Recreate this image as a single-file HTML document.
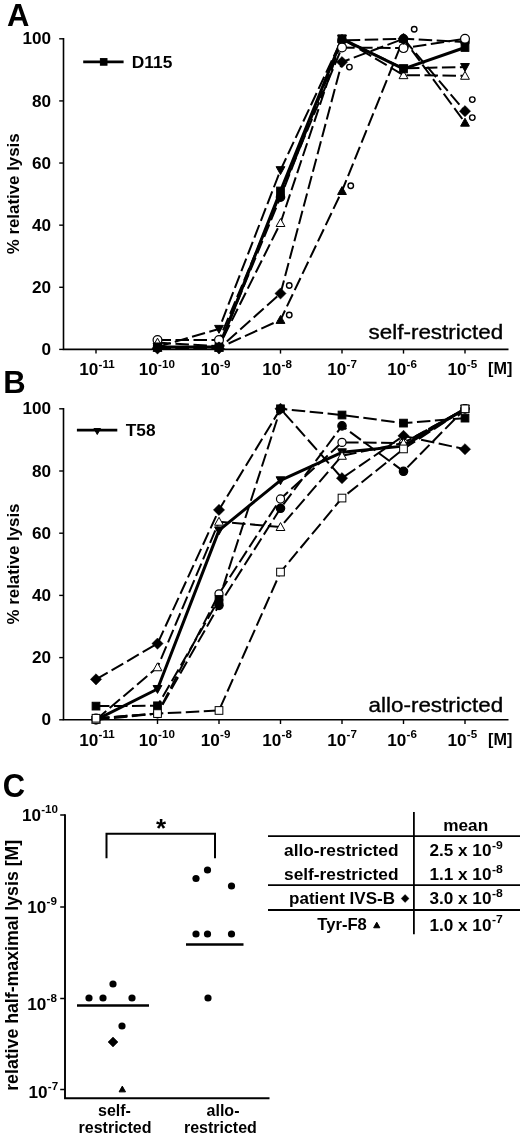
<!DOCTYPE html>
<html><head><meta charset="utf-8"><title>Figure</title>
<style>html,body{margin:0;padding:0;background:#fff}svg{display:block}</style></head>
<body>
<svg width="520" height="1135" viewBox="0 0 520 1135" font-family='"Liberation Sans", Arial, sans-serif' fill="#000">
<rect width="520" height="1135" fill="#fff"/>
<text transform="translate(7.00,26.00)" font-size="31" font-weight="bold">A</text>
<text transform="translate(3.30,393.00)" font-size="31" font-weight="bold">B</text>
<text transform="translate(2.80,797.30) scale(0.93,1)" font-size="33.3" font-weight="bold">C</text>
<path d="M63.5,38.099999999999994 V349.4 H508.5" fill="none" stroke="#000" stroke-width="1.6"/>
<line x1="59.2" x2="63.5" y1="349.40" y2="349.40" stroke="#000" stroke-width="1.4"/>
<text transform="translate(51.10,355.00) scale(1.06,1)" font-size="16.2" font-weight="bold" text-anchor="end">0</text>
<line x1="59.2" x2="63.5" y1="287.28" y2="287.28" stroke="#000" stroke-width="1.4"/>
<text transform="translate(51.10,292.88) scale(1.06,1)" font-size="16.2" font-weight="bold" text-anchor="end">20</text>
<line x1="59.2" x2="63.5" y1="225.16" y2="225.16" stroke="#000" stroke-width="1.4"/>
<text transform="translate(51.10,230.76) scale(1.06,1)" font-size="16.2" font-weight="bold" text-anchor="end">40</text>
<line x1="59.2" x2="63.5" y1="163.04" y2="163.04" stroke="#000" stroke-width="1.4"/>
<text transform="translate(51.10,168.64) scale(1.06,1)" font-size="16.2" font-weight="bold" text-anchor="end">60</text>
<line x1="59.2" x2="63.5" y1="100.92" y2="100.92" stroke="#000" stroke-width="1.4"/>
<text transform="translate(51.10,106.52) scale(1.06,1)" font-size="16.2" font-weight="bold" text-anchor="end">80</text>
<line x1="59.2" x2="63.5" y1="38.80" y2="38.80" stroke="#000" stroke-width="1.4"/>
<text transform="translate(51.10,44.40) scale(1.06,1)" font-size="16.2" font-weight="bold" text-anchor="end">100</text>
<line x1="96.0" x2="96.0" y1="349.4" y2="353.59999999999997" stroke="#000" stroke-width="1.4"/>
<text transform="translate(79.20,375.40) scale(1.06,1)" font-size="16.2" font-weight="bold">10<tspan dy="-7.8" dx="0.2" font-size="11">-11</tspan></text>
<line x1="157.5" x2="157.5" y1="349.4" y2="353.59999999999997" stroke="#000" stroke-width="1.4"/>
<text transform="translate(138.80,375.40) scale(1.06,1)" font-size="16.2" font-weight="bold">10<tspan dy="-7.8" dx="0.2" font-size="11">-10</tspan></text>
<line x1="219.0" x2="219.0" y1="349.4" y2="353.59999999999997" stroke="#000" stroke-width="1.4"/>
<text transform="translate(200.80,375.40) scale(1.06,1)" font-size="16.2" font-weight="bold">10<tspan dy="-7.8" dx="0.2" font-size="11">-9</tspan></text>
<line x1="280.5" x2="280.5" y1="349.4" y2="353.59999999999997" stroke="#000" stroke-width="1.4"/>
<text transform="translate(262.20,375.40) scale(1.06,1)" font-size="16.2" font-weight="bold">10<tspan dy="-7.8" dx="0.2" font-size="11">-8</tspan></text>
<line x1="342.0" x2="342.0" y1="349.4" y2="353.59999999999997" stroke="#000" stroke-width="1.4"/>
<text transform="translate(327.30,375.40) scale(1.06,1)" font-size="16.2" font-weight="bold">10<tspan dy="-7.8" dx="0.2" font-size="11">-7</tspan></text>
<line x1="403.5" x2="403.5" y1="349.4" y2="353.59999999999997" stroke="#000" stroke-width="1.4"/>
<text transform="translate(387.30,375.40) scale(1.06,1)" font-size="16.2" font-weight="bold">10<tspan dy="-7.8" dx="0.2" font-size="11">-6</tspan></text>
<line x1="465.0" x2="465.0" y1="349.4" y2="353.59999999999997" stroke="#000" stroke-width="1.4"/>
<text transform="translate(447.55,375.40) scale(1.06,1)" font-size="16.2" font-weight="bold">10<tspan dy="-7.8" dx="0.2" font-size="11">-5</tspan></text>
<text transform="translate(488.00,374.40) scale(1.04,1)" font-size="15.6" font-weight="bold">[M]</text>
<text transform="translate(18.60,193.80) rotate(-90)" font-size="17.3" font-weight="bold" text-anchor="middle" textLength="121" lengthAdjust="spacingAndGlyphs">% relative lysis</text>
<path d="M157.50,347.85 L219.00,346.29 L280.50,197.21 L342.00,40.35 L403.50,38.80 L465.00,41.91" fill="none" stroke="#000" stroke-width="2" stroke-dasharray="13.5 4.5"/>
<path d="M157.50,340.08 L219.00,340.08 L280.50,194.10 L342.00,47.50 L403.50,48.12 L465.00,38.80" fill="none" stroke="#000" stroke-width="2" stroke-dasharray="13.5 4.5"/>
<path d="M157.50,342.57 L219.00,346.29 L280.50,222.99 L342.00,38.80 L403.50,75.14 L465.00,75.76" fill="none" stroke="#000" stroke-width="2" stroke-dasharray="13.5 4.5"/>
<path d="M157.50,348.47 L219.00,348.47 L280.50,293.49 L342.00,62.10 L403.50,38.80 L465.00,111.17" fill="none" stroke="#000" stroke-width="2" stroke-dasharray="13.5 4.5"/>
<path d="M157.50,347.85 L219.00,347.85 L280.50,319.89 L342.00,190.99 L403.50,38.80 L465.00,122.66" fill="none" stroke="#000" stroke-width="2" stroke-dasharray="13.5 4.5"/>
<path d="M157.50,346.92 L219.00,328.90 L280.50,170.18 L342.00,38.80 L403.50,68.31 L465.00,67.06" fill="none" stroke="#000" stroke-width="2" stroke-dasharray="13.5 4.5"/>
<path d="M157.50,346.92 L219.00,346.92 L280.50,190.99 L342.00,38.80 L403.50,68.93 L465.00,47.50" fill="none" stroke="#000" stroke-width="3" stroke-linejoin="round"/>
<circle cx="157.50" cy="347.85" r="4.2" fill="#000" stroke="#000" stroke-width="1.2"/>
<circle cx="219.00" cy="346.29" r="4.2" fill="#000" stroke="#000" stroke-width="1.2"/>
<circle cx="280.50" cy="197.21" r="4.2" fill="#000" stroke="#000" stroke-width="1.2"/>
<circle cx="342.00" cy="40.35" r="4.2" fill="#000" stroke="#000" stroke-width="1.2"/>
<circle cx="403.50" cy="38.80" r="4.2" fill="#000" stroke="#000" stroke-width="1.2"/>
<circle cx="465.00" cy="41.91" r="4.2" fill="#000" stroke="#000" stroke-width="1.2"/>
<circle cx="157.50" cy="340.08" r="4.4" fill="#fff" stroke="#000" stroke-width="1.2"/>
<circle cx="219.00" cy="340.08" r="4.4" fill="#fff" stroke="#000" stroke-width="1.2"/>
<circle cx="342.00" cy="47.50" r="4.4" fill="#fff" stroke="#000" stroke-width="1.2"/>
<circle cx="403.50" cy="48.12" r="4.4" fill="#fff" stroke="#000" stroke-width="1.2"/>
<circle cx="465.00" cy="38.80" r="4.4" fill="#fff" stroke="#000" stroke-width="1.2"/>
<polygon points="157.50,338.17 161.90,346.09 153.10,346.09" fill="#fff" stroke="#000" stroke-width="1"/>
<polygon points="219.00,341.89 223.40,349.81 214.60,349.81" fill="#fff" stroke="#000" stroke-width="1"/>
<polygon points="280.50,218.59 284.90,226.51 276.10,226.51" fill="#fff" stroke="#000" stroke-width="1"/>
<polygon points="342.00,34.40 346.40,42.32 337.60,42.32" fill="#fff" stroke="#000" stroke-width="1"/>
<polygon points="403.50,70.74 407.90,78.66 399.10,78.66" fill="#fff" stroke="#000" stroke-width="1"/>
<polygon points="465.00,71.36 469.40,79.28 460.60,79.28" fill="#fff" stroke="#000" stroke-width="1"/>
<polygon points="157.50,342.87 163.10,348.47 157.50,354.07 151.90,348.47" fill="#000" stroke="#000" stroke-width="0.5"/>
<polygon points="219.00,342.87 224.60,348.47 219.00,354.07 213.40,348.47" fill="#000" stroke="#000" stroke-width="0.5"/>
<polygon points="280.50,287.89 286.10,293.49 280.50,299.09 274.90,293.49" fill="#000" stroke="#000" stroke-width="0.5"/>
<polygon points="342.00,56.50 347.60,62.10 342.00,67.70 336.40,62.10" fill="#000" stroke="#000" stroke-width="0.5"/>
<polygon points="403.50,33.20 409.10,38.80 403.50,44.40 397.90,38.80" fill="#000" stroke="#000" stroke-width="0.5"/>
<polygon points="465.00,105.57 470.60,111.17 465.00,116.77 459.40,111.17" fill="#000" stroke="#000" stroke-width="0.5"/>
<polygon points="157.50,343.45 161.90,351.37 153.10,351.37" fill="#000" stroke="#000" stroke-width="1"/>
<polygon points="219.00,343.45 223.40,351.37 214.60,351.37" fill="#000" stroke="#000" stroke-width="1"/>
<polygon points="280.50,315.49 284.90,323.41 276.10,323.41" fill="#000" stroke="#000" stroke-width="1"/>
<polygon points="342.00,186.59 346.40,194.51 337.60,194.51" fill="#000" stroke="#000" stroke-width="1"/>
<polygon points="403.50,34.40 407.90,42.32 399.10,42.32" fill="#000" stroke="#000" stroke-width="1"/>
<polygon points="465.00,118.26 469.40,126.18 460.60,126.18" fill="#000" stroke="#000" stroke-width="1"/>
<polygon points="157.50,351.32 161.90,343.40 153.10,343.40" fill="#000" stroke="#000" stroke-width="1"/>
<polygon points="219.00,333.30 223.40,325.38 214.60,325.38" fill="#000" stroke="#000" stroke-width="1"/>
<polygon points="280.50,174.58 284.90,166.66 276.10,166.66" fill="#000" stroke="#000" stroke-width="1"/>
<polygon points="342.00,43.20 346.40,35.28 337.60,35.28" fill="#000" stroke="#000" stroke-width="1"/>
<polygon points="403.50,72.71 407.90,64.79 399.10,64.79" fill="#000" stroke="#000" stroke-width="1"/>
<polygon points="465.00,71.46 469.40,63.54 460.60,63.54" fill="#000" stroke="#000" stroke-width="1"/>
<rect x="153.65" y="343.07" width="7.70" height="7.70" fill="#000" stroke="#000" stroke-width="1"/>
<rect x="215.15" y="343.07" width="7.70" height="7.70" fill="#000" stroke="#000" stroke-width="1"/>
<rect x="276.65" y="187.14" width="7.70" height="7.70" fill="#000" stroke="#000" stroke-width="1"/>
<rect x="338.15" y="34.95" width="7.70" height="7.70" fill="#000" stroke="#000" stroke-width="1"/>
<rect x="399.65" y="65.08" width="7.70" height="7.70" fill="#000" stroke="#000" stroke-width="1"/>
<rect x="461.15" y="43.65" width="7.70" height="7.70" fill="#000" stroke="#000" stroke-width="1"/>
<circle cx="289.25" cy="285.50" r="2.75" fill="#fff" stroke="#000" stroke-width="1.4"/>
<circle cx="289.25" cy="315.00" r="2.75" fill="#fff" stroke="#000" stroke-width="1.4"/>
<circle cx="350.75" cy="185.75" r="2.75" fill="#fff" stroke="#000" stroke-width="1.4"/>
<circle cx="349.40" cy="67.10" r="2.75" fill="#fff" stroke="#000" stroke-width="1.4"/>
<circle cx="414.20" cy="29.30" r="2.75" fill="#fff" stroke="#000" stroke-width="1.4"/>
<circle cx="472.30" cy="99.60" r="2.75" fill="#fff" stroke="#000" stroke-width="1.4"/>
<circle cx="472.30" cy="117.60" r="2.75" fill="#fff" stroke="#000" stroke-width="1.4"/>
<line x1="83.2" x2="123.6" y1="61.9" y2="61.9" stroke="#000" stroke-width="2.6"/>
<rect x="100.40" y="58.60" width="6.60" height="6.60" fill="#000" stroke="#000" stroke-width="1"/>
<text transform="translate(131.80,67.70)" font-size="16.2" font-weight="bold" textLength="40.5" lengthAdjust="spacingAndGlyphs">D115</text>
<text transform="translate(368.60,339.20)" font-size="20.3" stroke="#000" stroke-width="0.35" textLength="134.5" lengthAdjust="spacingAndGlyphs">self-restricted</text>
<path d="M63.5,408.1 V719.8 H508.5" fill="none" stroke="#000" stroke-width="1.6"/>
<line x1="59.2" x2="63.5" y1="719.80" y2="719.80" stroke="#000" stroke-width="1.4"/>
<text transform="translate(51.10,725.40) scale(1.06,1)" font-size="16.2" font-weight="bold" text-anchor="end">0</text>
<line x1="59.2" x2="63.5" y1="657.60" y2="657.60" stroke="#000" stroke-width="1.4"/>
<text transform="translate(51.10,663.20) scale(1.06,1)" font-size="16.2" font-weight="bold" text-anchor="end">20</text>
<line x1="59.2" x2="63.5" y1="595.40" y2="595.40" stroke="#000" stroke-width="1.4"/>
<text transform="translate(51.10,601.00) scale(1.06,1)" font-size="16.2" font-weight="bold" text-anchor="end">40</text>
<line x1="59.2" x2="63.5" y1="533.20" y2="533.20" stroke="#000" stroke-width="1.4"/>
<text transform="translate(51.10,538.80) scale(1.06,1)" font-size="16.2" font-weight="bold" text-anchor="end">60</text>
<line x1="59.2" x2="63.5" y1="471.00" y2="471.00" stroke="#000" stroke-width="1.4"/>
<text transform="translate(51.10,476.60) scale(1.06,1)" font-size="16.2" font-weight="bold" text-anchor="end">80</text>
<line x1="59.2" x2="63.5" y1="408.80" y2="408.80" stroke="#000" stroke-width="1.4"/>
<text transform="translate(51.10,414.40) scale(1.06,1)" font-size="16.2" font-weight="bold" text-anchor="end">100</text>
<line x1="96.0" x2="96.0" y1="719.8" y2="724.0" stroke="#000" stroke-width="1.4"/>
<text transform="translate(79.20,745.80) scale(1.06,1)" font-size="16.2" font-weight="bold">10<tspan dy="-7.8" dx="0.2" font-size="11">-11</tspan></text>
<line x1="157.5" x2="157.5" y1="719.8" y2="724.0" stroke="#000" stroke-width="1.4"/>
<text transform="translate(138.80,745.80) scale(1.06,1)" font-size="16.2" font-weight="bold">10<tspan dy="-7.8" dx="0.2" font-size="11">-10</tspan></text>
<line x1="219.0" x2="219.0" y1="719.8" y2="724.0" stroke="#000" stroke-width="1.4"/>
<text transform="translate(200.80,745.80) scale(1.06,1)" font-size="16.2" font-weight="bold">10<tspan dy="-7.8" dx="0.2" font-size="11">-9</tspan></text>
<line x1="280.5" x2="280.5" y1="719.8" y2="724.0" stroke="#000" stroke-width="1.4"/>
<text transform="translate(262.20,745.80) scale(1.06,1)" font-size="16.2" font-weight="bold">10<tspan dy="-7.8" dx="0.2" font-size="11">-8</tspan></text>
<line x1="342.0" x2="342.0" y1="719.8" y2="724.0" stroke="#000" stroke-width="1.4"/>
<text transform="translate(327.30,745.80) scale(1.06,1)" font-size="16.2" font-weight="bold">10<tspan dy="-7.8" dx="0.2" font-size="11">-7</tspan></text>
<line x1="403.5" x2="403.5" y1="719.8" y2="724.0" stroke="#000" stroke-width="1.4"/>
<text transform="translate(387.30,745.80) scale(1.06,1)" font-size="16.2" font-weight="bold">10<tspan dy="-7.8" dx="0.2" font-size="11">-6</tspan></text>
<line x1="465.0" x2="465.0" y1="719.8" y2="724.0" stroke="#000" stroke-width="1.4"/>
<text transform="translate(447.55,745.80) scale(1.06,1)" font-size="16.2" font-weight="bold">10<tspan dy="-7.8" dx="0.2" font-size="11">-5</tspan></text>
<text transform="translate(488.00,744.80) scale(1.04,1)" font-size="15.6" font-weight="bold">[M]</text>
<text transform="translate(18.60,564.00) rotate(-90)" font-size="17.3" font-weight="bold" text-anchor="middle" textLength="121" lengthAdjust="spacingAndGlyphs">% relative lysis</text>
<path d="M96.00,718.25 L157.50,713.58 L219.00,593.85 L280.50,498.99 L342.00,442.39 L403.50,443.01 L465.00,408.80" fill="none" stroke="#000" stroke-width="2" stroke-dasharray="13.5 4.5"/>
<path d="M96.00,719.80 L157.50,713.58 L219.00,605.35 L280.50,508.32 L342.00,425.90 L403.50,471.31 L465.00,408.80" fill="none" stroke="#000" stroke-width="2" stroke-dasharray="13.5 4.5"/>
<path d="M96.00,706.12 L157.50,705.80 L219.00,599.44 L280.50,408.80 L342.00,415.02 L403.50,423.11 L465.00,418.13" fill="none" stroke="#000" stroke-width="2" stroke-dasharray="13.5 4.5"/>
<path d="M96.00,679.37 L157.50,643.61 L219.00,509.88 L280.50,408.80 L342.00,478.15 L403.50,435.86 L465.00,449.23" fill="none" stroke="#000" stroke-width="2" stroke-dasharray="13.5 4.5"/>
<path d="M96.00,719.80 L157.50,689.01 L219.00,530.40 L280.50,480.33 L342.00,452.34 L403.50,446.12 L465.00,408.80" fill="none" stroke="#000" stroke-width="3" stroke-linejoin="round"/>
<path d="M96.00,719.80 L157.50,667.24 L219.00,521.69 L280.50,526.98 L342.00,455.76 L403.50,443.01 L465.00,408.80" fill="none" stroke="#000" stroke-width="2" stroke-dasharray="13.5 4.5"/>
<path d="M96.00,718.25 L157.50,713.58 L219.00,710.47 L280.50,572.07 L342.00,498.06 L403.50,448.92 L465.00,408.80" fill="none" stroke="#000" stroke-width="2" stroke-dasharray="13.5 4.5"/>
<circle cx="96.00" cy="718.25" r="4.05" fill="#fff" stroke="#000" stroke-width="1.2"/>
<circle cx="157.50" cy="713.58" r="4.05" fill="#fff" stroke="#000" stroke-width="1.2"/>
<circle cx="219.00" cy="593.85" r="4.05" fill="#fff" stroke="#000" stroke-width="1.2"/>
<circle cx="280.50" cy="498.99" r="4.05" fill="#fff" stroke="#000" stroke-width="1.2"/>
<circle cx="342.00" cy="442.39" r="4.05" fill="#fff" stroke="#000" stroke-width="1.2"/>
<circle cx="403.50" cy="443.01" r="4.05" fill="#fff" stroke="#000" stroke-width="1.2"/>
<circle cx="465.00" cy="408.80" r="4.05" fill="#fff" stroke="#000" stroke-width="1.2"/>
<circle cx="96.00" cy="719.80" r="4.2" fill="#000" stroke="#000" stroke-width="1.2"/>
<circle cx="157.50" cy="713.58" r="4.2" fill="#000" stroke="#000" stroke-width="1.2"/>
<circle cx="219.00" cy="605.35" r="4.2" fill="#000" stroke="#000" stroke-width="1.2"/>
<circle cx="280.50" cy="508.32" r="4.2" fill="#000" stroke="#000" stroke-width="1.2"/>
<circle cx="342.00" cy="425.90" r="4.2" fill="#000" stroke="#000" stroke-width="1.2"/>
<circle cx="403.50" cy="471.31" r="4.2" fill="#000" stroke="#000" stroke-width="1.2"/>
<circle cx="465.00" cy="408.80" r="4.2" fill="#000" stroke="#000" stroke-width="1.2"/>
<rect x="92.15" y="702.27" width="7.70" height="7.70" fill="#000" stroke="#000" stroke-width="1"/>
<rect x="153.65" y="701.95" width="7.70" height="7.70" fill="#000" stroke="#000" stroke-width="1"/>
<rect x="215.15" y="595.59" width="7.70" height="7.70" fill="#000" stroke="#000" stroke-width="1"/>
<rect x="276.65" y="404.95" width="7.70" height="7.70" fill="#000" stroke="#000" stroke-width="1"/>
<rect x="338.15" y="411.17" width="7.70" height="7.70" fill="#000" stroke="#000" stroke-width="1"/>
<rect x="399.65" y="419.26" width="7.70" height="7.70" fill="#000" stroke="#000" stroke-width="1"/>
<rect x="461.15" y="414.28" width="7.70" height="7.70" fill="#000" stroke="#000" stroke-width="1"/>
<polygon points="96.00,673.77 101.60,679.37 96.00,684.97 90.40,679.37" fill="#000" stroke="#000" stroke-width="0.5"/>
<polygon points="157.50,638.00 163.10,643.61 157.50,649.21 151.90,643.61" fill="#000" stroke="#000" stroke-width="0.5"/>
<polygon points="219.00,504.27 224.60,509.88 219.00,515.48 213.40,509.88" fill="#000" stroke="#000" stroke-width="0.5"/>
<polygon points="280.50,403.20 286.10,408.80 280.50,414.40 274.90,408.80" fill="#000" stroke="#000" stroke-width="0.5"/>
<polygon points="342.00,472.55 347.60,478.15 342.00,483.75 336.40,478.15" fill="#000" stroke="#000" stroke-width="0.5"/>
<polygon points="403.50,430.26 409.10,435.86 403.50,441.46 397.90,435.86" fill="#000" stroke="#000" stroke-width="0.5"/>
<polygon points="465.00,443.63 470.60,449.23 465.00,454.83 459.40,449.23" fill="#000" stroke="#000" stroke-width="0.5"/>
<polygon points="96.00,724.20 100.40,716.28 91.60,716.28" fill="#000" stroke="#000" stroke-width="1"/>
<polygon points="157.50,693.41 161.90,685.49 153.10,685.49" fill="#000" stroke="#000" stroke-width="1"/>
<polygon points="219.00,534.80 223.40,526.88 214.60,526.88" fill="#000" stroke="#000" stroke-width="1"/>
<polygon points="280.50,484.73 284.90,476.81 276.10,476.81" fill="#000" stroke="#000" stroke-width="1"/>
<polygon points="342.00,456.74 346.40,448.82 337.60,448.82" fill="#000" stroke="#000" stroke-width="1"/>
<polygon points="403.50,450.52 407.90,442.60 399.10,442.60" fill="#000" stroke="#000" stroke-width="1"/>
<polygon points="465.00,413.20 469.40,405.28 460.60,405.28" fill="#000" stroke="#000" stroke-width="1"/>
<polygon points="96.00,715.40 100.40,723.32 91.60,723.32" fill="#fff" stroke="#000" stroke-width="1"/>
<polygon points="157.50,662.84 161.90,670.76 153.10,670.76" fill="#fff" stroke="#000" stroke-width="1"/>
<polygon points="219.00,517.29 223.40,525.21 214.60,525.21" fill="#fff" stroke="#000" stroke-width="1"/>
<polygon points="280.50,522.58 284.90,530.50 276.10,530.50" fill="#fff" stroke="#000" stroke-width="1"/>
<polygon points="342.00,451.36 346.40,459.28 337.60,459.28" fill="#fff" stroke="#000" stroke-width="1"/>
<polygon points="403.50,438.61 407.90,446.53 399.10,446.53" fill="#fff" stroke="#000" stroke-width="1"/>
<polygon points="465.00,404.40 469.40,412.32 460.60,412.32" fill="#fff" stroke="#000" stroke-width="1"/>
<rect x="92.15" y="714.39" width="7.70" height="7.70" fill="#fff" stroke="#000" stroke-width="1"/>
<rect x="153.65" y="709.73" width="7.70" height="7.70" fill="#fff" stroke="#000" stroke-width="1"/>
<rect x="215.15" y="706.62" width="7.70" height="7.70" fill="#fff" stroke="#000" stroke-width="1"/>
<rect x="276.65" y="568.22" width="7.70" height="7.70" fill="#fff" stroke="#000" stroke-width="1"/>
<rect x="338.15" y="494.21" width="7.70" height="7.70" fill="#fff" stroke="#000" stroke-width="1"/>
<rect x="399.65" y="445.07" width="7.70" height="7.70" fill="#fff" stroke="#000" stroke-width="1"/>
<rect x="461.15" y="404.95" width="7.70" height="7.70" fill="#fff" stroke="#000" stroke-width="1"/>
<line x1="76.9" x2="117.3" y1="430.1" y2="430.1" stroke="#000" stroke-width="2.6"/>
<polygon points="97.25,434.50 100.55,428.56 93.95,428.56" fill="#000" stroke="#000" stroke-width="1"/>
<text transform="translate(125.80,435.90)" font-size="16.2" font-weight="bold" textLength="29.8" lengthAdjust="spacingAndGlyphs">T58</text>
<text transform="translate(368.60,711.80)" font-size="20.3" stroke="#000" stroke-width="0.35" textLength="134.5" lengthAdjust="spacingAndGlyphs">allo-restricted</text>
<path d="M65,814.2 V1098.3 H269.5" fill="none" stroke="#000" stroke-width="1.9"/>
<line x1="60.2" x2="65" y1="815" y2="815" stroke="#000" stroke-width="1.5"/>
<text transform="translate(21.90,820.80) scale(1.06,1)" font-size="16.2" font-weight="bold">10<tspan dy="-7.8" dx="0.2" font-size="11">-10</tspan></text>
<line x1="60.2" x2="65" y1="907" y2="907" stroke="#000" stroke-width="1.5"/>
<text transform="translate(27.30,912.70) scale(1.06,1)" font-size="16.2" font-weight="bold">10<tspan dy="-7.8" dx="0.2" font-size="11">-9</tspan></text>
<line x1="60.2" x2="65" y1="998.5" y2="998.5" stroke="#000" stroke-width="1.5"/>
<text transform="translate(27.30,1010.00) scale(1.06,1)" font-size="16.2" font-weight="bold">10<tspan dy="-7.8" dx="0.2" font-size="11">-8</tspan></text>
<line x1="60.2" x2="65" y1="1089.5" y2="1089.5" stroke="#000" stroke-width="1.5"/>
<text transform="translate(28.50,1097.50) scale(1.06,1)" font-size="16.2" font-weight="bold">10<tspan dy="-7.8" dx="0.2" font-size="11">-7</tspan></text>
<text transform="translate(18.00,965.30) rotate(-90)" font-size="17.5" font-weight="bold" text-anchor="middle" textLength="251" lengthAdjust="spacingAndGlyphs">relative half-maximal lysis [M]</text>
<text transform="translate(114.50,1116.40)" font-size="16" font-weight="bold" text-anchor="middle">self-</text>
<text transform="translate(115.00,1132.90)" font-size="16" font-weight="bold" text-anchor="middle">restricted</text>
<text transform="translate(223.00,1116.40)" font-size="16" font-weight="bold" text-anchor="middle">allo-</text>
<text transform="translate(220.40,1132.90)" font-size="16" font-weight="bold" text-anchor="middle">restricted</text>
<path d="M106.5,858.3 V833.8 H215 V858.3" fill="none" stroke="#000" stroke-width="2"/>
<text transform="translate(161.00,836.50)" font-size="26" font-weight="bold" text-anchor="middle">*</text>
<line x1="77" x2="149" y1="1005.5" y2="1005.5" stroke="#000" stroke-width="2.6"/>
<line x1="186" x2="243.5" y1="944.5" y2="944.5" stroke="#000" stroke-width="2.6"/>
<circle cx="89" cy="998" r="3.6"/>
<circle cx="103" cy="998" r="3.6"/>
<circle cx="113" cy="984" r="3.6"/>
<circle cx="132" cy="998" r="3.6"/>
<circle cx="122" cy="1026" r="3.6"/>
<circle cx="196" cy="878.5" r="3.6"/>
<circle cx="207.5" cy="870" r="3.6"/>
<circle cx="231.5" cy="886" r="3.6"/>
<circle cx="196" cy="934" r="3.6"/>
<circle cx="207.5" cy="934" r="3.6"/>
<circle cx="231.5" cy="934" r="3.6"/>
<circle cx="208" cy="998" r="3.6"/>
<polygon points="113.00,1037.00 118.00,1042.00 113.00,1047.00 108.00,1042.00" fill="#000" stroke="#000" stroke-width="0.5"/>
<polygon points="122.30,1086.10 125.50,1091.86 119.10,1091.86" fill="#000" stroke="#000" stroke-width="1"/>
<line x1="413.9" x2="413.9" y1="812" y2="934.3" stroke="#000" stroke-width="1.8"/>
<line x1="268" x2="520" y1="836.2" y2="836.2" stroke="#000" stroke-width="1.8"/>
<line x1="268" x2="520" y1="885.1" y2="885.1" stroke="#000" stroke-width="1.8"/>
<line x1="268" x2="520" y1="910" y2="910" stroke="#000" stroke-width="1.8"/>
<text transform="translate(443.20,830.80)" font-size="16.2" font-weight="bold" textLength="45" lengthAdjust="spacingAndGlyphs">mean</text>
<text transform="translate(284.00,855.80)" font-size="16.2" font-weight="bold" textLength="114.5" lengthAdjust="spacingAndGlyphs">allo-restricted</text>
<text transform="translate(429.40,856.20) scale(1.06,1)" font-size="16.2" font-weight="bold">2.5 x 10<tspan dy="-7.6" dx="0.5" font-size="11.5">-9</tspan></text>
<text transform="translate(284.00,879.80)" font-size="16.2" font-weight="bold" textLength="114.5" lengthAdjust="spacingAndGlyphs">self-restricted</text>
<text transform="translate(429.40,880.20) scale(1.06,1)" font-size="16.2" font-weight="bold">1.1 x 10<tspan dy="-7.6" dx="0.5" font-size="11.5">-8</tspan></text>
<text transform="translate(289.00,904.00)" font-size="16.2" font-weight="bold" textLength="106" lengthAdjust="spacingAndGlyphs">patient IVS-B</text>
<text transform="translate(429.40,904.40) scale(1.06,1)" font-size="16.2" font-weight="bold">3.0 x 10<tspan dy="-7.6" dx="0.5" font-size="11.5">-8</tspan></text>
<text transform="translate(317.30,930.40)" font-size="16.2" font-weight="bold" textLength="49.5" lengthAdjust="spacingAndGlyphs">Tyr-F8</text>
<text transform="translate(429.40,930.80) scale(1.06,1)" font-size="16.2" font-weight="bold">1.0 x 10<tspan dy="-7.6" dx="0.5" font-size="11.5">-7</tspan></text>
<polygon points="405.10,894.60 409.00,898.50 405.10,902.40 401.20,898.50" fill="#000" stroke="#000" stroke-width="0.5"/>
<polygon points="376.75,922.20 379.85,927.78 373.65,927.78" fill="#000" stroke="#000" stroke-width="1"/>
</svg>
</body></html>
